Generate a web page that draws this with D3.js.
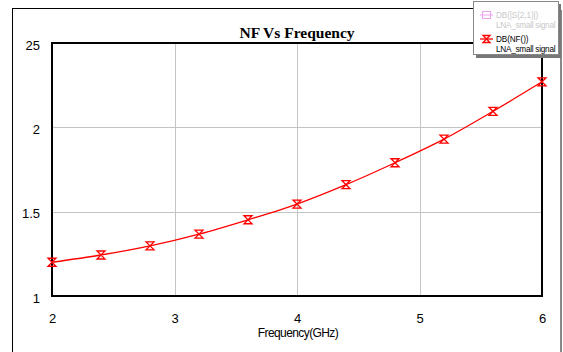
<!DOCTYPE html>
<html>
<head>
<meta charset="utf-8">
<script src="https://cdn.jsdelivr.net/npm/d3@7"></script>
<style>
html,body{margin:0;padding:0;background:#fff;}
svg{display:block;}
</style>
</head>
<body>
<svg id="chart" width="563" height="352"></svg>
<script>
const freq = [2.0, 2.4, 2.8, 3.2, 3.6, 4.0, 4.4, 4.8, 5.2, 5.6, 6.0];
const nf = [1.20, 1.243, 1.297, 1.367, 1.452, 1.545, 1.66, 1.79, 1.93, 2.095, 2.27];
const xTicks = [2, 3, 4, 5, 6];
const xTickLabels = ["2", "3", "4", "5", "6"];
const yTicks = [1, 1.5, 2, 2.5];
const yTickLabels = ["1", "1.5", "2", "25"];
const titleText = "NF Vs Frequency";
const xLabel = "Frequency(GHz)";
const legendItems = [
  {name: "DB(|S(2,1)|)", sub: "LNA_small signal"},
  {name: "DB(NF())", sub: "LNA_small signal"}
];

const svg = d3.select("#chart");
const L = 52, R = 542, T = 43, B = 296;
const x = d3.scaleLinear().domain([2, 6]).range([L, R]);
const y = d3.scaleLinear().domain([1, 2.5]).range([B, T]);

// outer frame
svg.append("line").attr("x1", 12.5).attr("x2", 12.5).attr("y1", 8).attr("y2", 352).attr("stroke", "#000").attr("stroke-width", 1);
svg.append("line").attr("x1", 12).attr("x2", 480).attr("y1", 8.5).attr("y2", 8.5).attr("stroke", "#000").attr("stroke-width", 1);
svg.append("line").attr("x1", 561).attr("x2", 561).attr("y1", 10).attr("y2", 352).attr("stroke", "#888").attr("stroke-width", 2);

// grid
const g = svg.append("g");
g.selectAll(".gx").data(xTicks.slice(1, -1)).enter().append("line")
  .attr("x1", d => Math.round(x(d)) + 0.5).attr("x2", d => Math.round(x(d)) + 0.5)
  .attr("y1", T).attr("y2", B).attr("stroke", "#c4c4c4").attr("stroke-width", 1);
g.selectAll(".gy").data(yTicks.slice(1, -1)).enter().append("line")
  .attr("y1", d => Math.round(y(d)) + 0.5).attr("y2", d => Math.round(y(d)) + 0.5)
  .attr("x1", L).attr("x2", R).attr("stroke", "#c4c4c4").attr("stroke-width", 1);

// plot border
svg.append("rect").attr("x", L).attr("y", T).attr("width", R - L).attr("height", B - T)
  .attr("fill", "none").attr("stroke", "#000").attr("stroke-width", 2);

// axes labels via d3 axes
const xAxis = d3.axisBottom(x).tickValues(xTicks).tickSize(0).tickPadding(0)
  .tickFormat((d, i) => xTickLabels[i]);
const xa = svg.append("g").attr("transform", `translate(0,${B})`).call(xAxis);
xa.select(".domain").remove();
xa.selectAll("text").attr("dy", null).attr("y", 27).attr("font-family", "Liberation Sans, Arial, sans-serif")
  .attr("font-size", 13).attr("fill", "#000");

const yAxis = d3.axisLeft(y).tickValues(yTicks).tickSize(0).tickPadding(0)
  .tickFormat((d, i) => yTickLabels[i]);
const ya = svg.append("g").call(yAxis);
ya.select(".domain").remove();
ya.selectAll(".tick").attr("transform", d => `translate(40,${y(d) + 2})`);
ya.selectAll("text").attr("x", 0).attr("dy", "0.35em").attr("font-family", "Liberation Sans, Arial, sans-serif")
  .attr("font-size", 13).attr("fill", "#000");

// title
svg.append("text").attr("x", 297).attr("y", 38).attr("text-anchor", "middle")
  .attr("font-family", "Liberation Serif, Times New Roman, serif").attr("font-weight", "bold")
  .attr("font-size", 15.5).text(titleText);

// x label
svg.append("text").attr("x", 298).attr("y", 337).attr("text-anchor", "middle")
  .attr("font-family", "Liberation Sans, Arial, sans-serif").attr("font-size", 12)
  .attr("letter-spacing", -0.6).text(xLabel);

// line
const pts = freq.map((f, i) => [f, nf[i]]);
svg.append("path").datum(pts)
  .attr("d", d3.line().x(d => x(d[0])).y(d => y(d[1])).curve(d3.curveMonotoneX))
  .attr("fill", "none").attr("stroke", "#ff0000").attr("stroke-width", 1.3);

// markers (hourglass)
function hourglass(cx, cy, s) {
  const h = s / 2;
  return `M${cx - h},${cy - h}H${cx + h}L${cx - h},${cy + h}H${cx + h}Z`;
}
svg.selectAll(".mk").data(pts).enter().append("path")
  .attr("d", d => hourglass(x(d[0]), y(d[1]), 8))
  .attr("fill", "none").attr("stroke", "#ff0000").attr("stroke-width", 1.3);

// legend
const lg = svg.append("g");
lg.append("rect").attr("x", 476).attr("y", 4).attr("width", 85).attr("height", 54).attr("fill", "#777");
lg.append("rect").attr("x", 473.5).attr("y", 1.5).attr("width", 85).attr("height", 53)
  .attr("fill", "#fff").attr("stroke", "#888").attr("stroke-width", 1);
// entry 1 marker (pink box)
lg.append("line").attr("x1", 480).attr("x2", 493).attr("y1", 15).attr("y2", 15).attr("stroke", "#f0a0f0").attr("stroke-width", 1);
lg.append("rect").attr("x", 482.5).attr("y", 11.5).attr("width", 8).attr("height", 7)
  .attr("fill", "none").attr("stroke", "#f0a0f0").attr("stroke-width", 1);
// entry 2 marker
lg.append("line").attr("x1", 480).attr("x2", 493).attr("y1", 39).attr("y2", 39).attr("stroke", "#ff0000").attr("stroke-width", 1.3);
lg.append("path").attr("d", hourglass(486.5, 39, 7)).attr("fill", "none").attr("stroke", "#ff0000").attr("stroke-width", 1.3);

const lf = "Liberation Sans, Arial, sans-serif";
legendItems.forEach((it, i) => {
  const yy = 18 + i * 24;
  const col = i === 0 ? "#c8c8c8" : "#000";
  lg.append("text").attr("x", 496).attr("y", yy).attr("font-family", lf).attr("font-size", 8.2)
    .attr("letter-spacing", -0.1).attr("fill", col).text(it.name);
  lg.append("text").attr("x", 496).attr("y", yy + 10).attr("font-family", lf).attr("font-size", 8.2)
    .attr("letter-spacing", -0.25).attr("fill", col).text(it.sub);
});
</script>
</body>
</html>
